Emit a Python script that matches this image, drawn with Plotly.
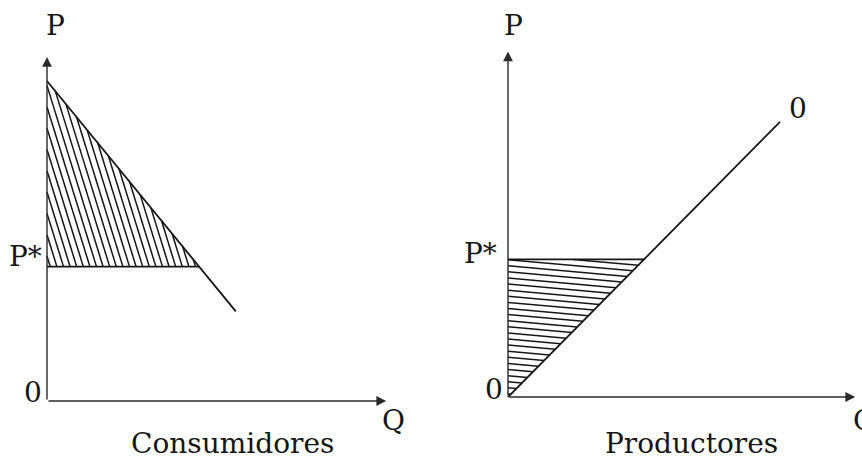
import numpy as np
import plotly.graph_objects as go

# ---------------- data ----------------
# Consumer panel (demand curve)
demand_q = [0.0, 4.75, 5.9]
demand_p = [10.0, 4.2, 2.8]
p_star_cons = 4.2
q_star_cons = 4.75

# Producer panel (supply curve)
supply_q = [0.0, 4.25, 8.5]
supply_p = [0.0, 4.3, 8.6]
p_star_prod = 4.3
q_star_prod = 4.25

# axis extents (length of arrows)
cons_axis_q, cons_axis_p = 10.6, 10.75
prod_axis_q, prod_axis_p = 10.85, 10.8

panel_titles = ["Consumidores", "Productores"]
axis_labels = ["P", "Q", "P*", "0"]

INK = "#161616"
AX = "#2a2a2a"
FONT = dict(family="DejaVu Serif", size=28, color=INK)


def hatch(vertices, direction, spacing):
    """Hatch segments clipped to a convex polygon."""
    v = np.array(vertices, dtype=float)
    d = np.array(direction, dtype=float)
    d /= np.linalg.norm(d)
    n = np.array([-d[1], d[0]])
    proj = v @ n
    lo, hi = proj.min(), proj.max()
    xs, ys = [], []
    c = lo + spacing * 0.5
    while c < hi:
        pts = []
        for i in range(len(v)):
            a, b = v[i], v[(i + 1) % len(v)]
            sa, sb = a @ n - c, b @ n - c
            if sa * sb <= 0 and sa != sb:
                t = sa / (sa - sb)
                pts.append(a + t * (b - a))
        if len(pts) >= 2:
            pts = sorted(pts, key=lambda p: p @ d)
            xs += [pts[0][0], pts[-1][0], None]
            ys += [pts[0][1], pts[-1][1], None]
        c += spacing
    return xs, ys


fig = go.Figure()

# ---------- consumer panel ----------
hx, hy = hatch([(0, p_star_cons), (q_star_cons, p_star_cons), (0, demand_p[0])],
               (0.31, -1.0), 0.197)
fig.add_trace(go.Scatter(x=hx, y=hy, mode="lines", line=dict(color=INK, width=1.5),
                         xaxis="x", yaxis="y", hoverinfo="skip"))
fig.add_trace(go.Scatter(x=[0, q_star_cons], y=[p_star_cons, p_star_cons], mode="lines",
                         line=dict(color=INK, width=1.6), xaxis="x", yaxis="y"))
fig.add_trace(go.Scatter(x=demand_q, y=demand_p, mode="lines",
                         line=dict(color=INK, width=1.8), xaxis="x", yaxis="y"))

# ---------- producer panel ----------
hx, hy = hatch([(0, 0), (q_star_prod, p_star_prod), (0, p_star_prod)],
               (1.0, -0.09), 0.19)
fig.add_trace(go.Scatter(x=hx, y=hy, mode="lines", line=dict(color=INK, width=1.5),
                         xaxis="x2", yaxis="y2", hoverinfo="skip"))
fig.add_trace(go.Scatter(x=[0, q_star_prod], y=[p_star_prod, p_star_prod], mode="lines",
                         line=dict(color=INK, width=1.6), xaxis="x2", yaxis="y2"))
fig.add_trace(go.Scatter(x=supply_q, y=supply_p, mode="lines",
                         line=dict(color=INK, width=1.8), xaxis="x2", yaxis="y2"))

annotations = []


def axis_arrow(xref, yref, x, y):
    annotations.append(dict(x=x, y=y, ax=0, ay=0, xref=xref, yref=yref,
                            axref=xref, ayref=yref, text="", showarrow=True,
                            arrowhead=2, arrowsize=1.4, arrowwidth=1.4, arrowcolor=AX,
                            standoff=0, startstandoff=0))


axis_arrow("x", "y", 0, cons_axis_p)
axis_arrow("x", "y", cons_axis_q, 0)
axis_arrow("x2", "y2", 0, prod_axis_p)
axis_arrow("x2", "y2", prod_axis_q, 0)


def label(xref, yref, x, y, text, xanchor="center", yanchor="middle"):
    annotations.append(dict(x=x, y=y, xref=xref, yref=yref, text=text, showarrow=False,
                            font=FONT, xanchor=xanchor, yanchor=yanchor))


# consumer labels
label("x", "y", 0.25, 11.72, axis_labels[0])
label("x", "y", -0.1, p_star_cons + 0.33, axis_labels[2], xanchor="right")
label("x", "y", -0.1, 0.28, axis_labels[3], xanchor="right")
label("x", "y", 10.84, -0.62, axis_labels[1])
label("x", "y", 5.81, -1.34, panel_titles[0])

# producer labels
label("x2", "y2", 0.16, 11.6, axis_labels[0])
label("x2", "y2", -0.28, p_star_prod + 0.2, axis_labels[2], xanchor="right")
label("x2", "y2", -0.1, 0.22, axis_labels[3], xanchor="right")
label("x2", "y2", 10.72, -0.72, axis_labels[1], xanchor="left")
label("x2", "y2", 5.72, -1.46, panel_titles[1])
label("x2", "y2", 9.06, 9.03, "0")

hidden = dict(visible=False, showgrid=False, zeroline=False, fixedrange=True)
fig.update_layout(
    width=862, height=458,
    margin=dict(l=0, r=0, t=0, b=0),
    paper_bgcolor="white", plot_bgcolor="white",
    showlegend=False,
    xaxis=dict(domain=[0, 0.5], range=[-47 / 32, (431 - 47) / 32], anchor="y", **hidden),
    yaxis=dict(domain=[0, 1], range=[(401 - 458) / 32, 401 / 32], anchor="x", **hidden),
    xaxis2=dict(domain=[0.5, 1], range=[(431 - 508) / 32, (862 - 508) / 32], anchor="y2", **hidden),
    yaxis2=dict(domain=[0, 1], range=[(397 - 458) / 32, 397 / 32], anchor="x2", **hidden),
    annotations=annotations,
)

fig.write_html(
    "out.html",
    config={"displayModeBar": False},
    post_script="document.body.style.margin='0';document.body.style.overflow='hidden';",
)
